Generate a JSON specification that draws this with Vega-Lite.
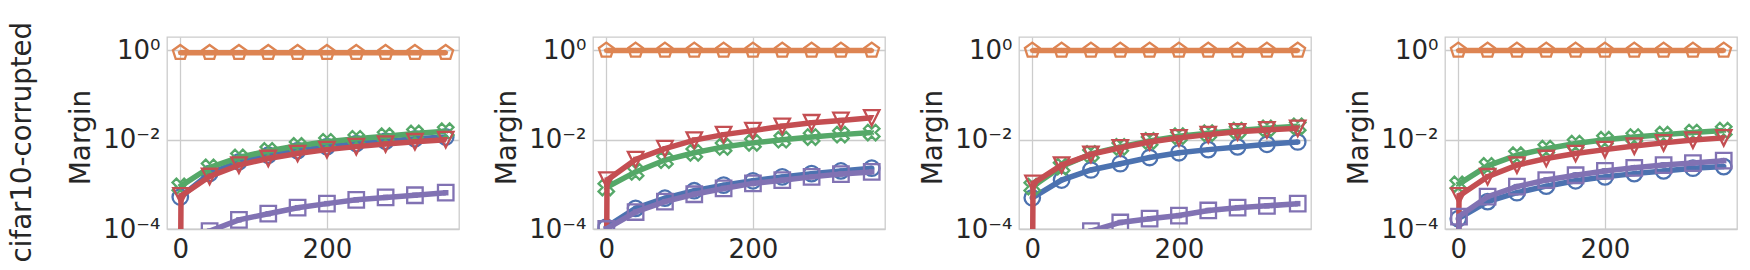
{
  "$schema": "https://vega.github.io/schema/vega-lite/v6.json",
  "padding": {"left": 8, "top": 21, "right": 2, "bottom": 0},
  "data": {"values": [
    {"p":1,"s":"s1","x":0,"y":0.00052},{"p":1,"s":"s1","x":40,"y":0.00175},{"p":1,"s":"s1","x":80,"y":0.0032},{"p":1,"s":"s1","x":120,"y":0.0045},{"p":1,"s":"s1","x":160,"y":0.0057},{"p":1,"s":"s1","x":200,"y":0.007},{"p":1,"s":"s1","x":240,"y":0.0082},{"p":1,"s":"s1","x":280,"y":0.0093},{"p":1,"s":"s1","x":320,"y":0.0105},{"p":1,"s":"s1","x":362,"y":0.0115},
    {"p":1,"s":"s2","x":0,"y":0.89},{"p":1,"s":"s2","x":40,"y":0.89},{"p":1,"s":"s2","x":80,"y":0.89},{"p":1,"s":"s2","x":120,"y":0.89},{"p":1,"s":"s2","x":160,"y":0.89},{"p":1,"s":"s2","x":200,"y":0.89},{"p":1,"s":"s2","x":240,"y":0.89},{"p":1,"s":"s2","x":280,"y":0.89},{"p":1,"s":"s2","x":320,"y":0.89},{"p":1,"s":"s2","x":362,"y":0.89},
    {"p":1,"s":"s3","x":0,"y":0.0009},{"p":1,"s":"s3","x":40,"y":0.0024},{"p":1,"s":"s3","x":80,"y":0.004},{"p":1,"s":"s3","x":120,"y":0.0056},{"p":1,"s":"s3","x":160,"y":0.0073},{"p":1,"s":"s3","x":200,"y":0.009},{"p":1,"s":"s3","x":240,"y":0.0105},{"p":1,"s":"s3","x":280,"y":0.012},{"p":1,"s":"s3","x":320,"y":0.0138},{"p":1,"s":"s3","x":362,"y":0.0155},
    {"p":1,"s":"s4","x":0,"y":0.000001},{"p":1,"s":"s4","x":1,"y":0.00055},{"p":1,"s":"s4","x":40,"y":0.0015},{"p":1,"s":"s4","x":80,"y":0.0027},{"p":1,"s":"s4","x":120,"y":0.0038},{"p":1,"s":"s4","x":160,"y":0.0049},{"p":1,"s":"s4","x":200,"y":0.006},{"p":1,"s":"s4","x":240,"y":0.007},{"p":1,"s":"s4","x":280,"y":0.008},{"p":1,"s":"s4","x":320,"y":0.009},{"p":1,"s":"s4","x":362,"y":0.01},
    {"p":1,"s":"s5","x":0,"y":0.00002},{"p":1,"s":"s5","x":40,"y":0.00009},{"p":1,"s":"s5","x":80,"y":0.00016},{"p":1,"s":"s5","x":120,"y":0.00022},{"p":1,"s":"s5","x":160,"y":0.0003},{"p":1,"s":"s5","x":200,"y":0.00037},{"p":1,"s":"s5","x":240,"y":0.00045},{"p":1,"s":"s5","x":280,"y":0.00051},{"p":1,"s":"s5","x":320,"y":0.00057},{"p":1,"s":"s5","x":362,"y":0.00065},

    {"p":2,"s":"s1","x":0,"y":0.00011},{"p":2,"s":"s1","x":40,"y":0.00029},{"p":2,"s":"s1","x":80,"y":0.00049},{"p":2,"s":"s1","x":120,"y":0.00072},{"p":2,"s":"s1","x":160,"y":0.00096},{"p":2,"s":"s1","x":200,"y":0.0012},{"p":2,"s":"s1","x":240,"y":0.00147},{"p":2,"s":"s1","x":280,"y":0.00174},{"p":2,"s":"s1","x":320,"y":0.002},{"p":2,"s":"s1","x":362,"y":0.0023},
    {"p":2,"s":"s2","x":0,"y":1},{"p":2,"s":"s2","x":40,"y":1},{"p":2,"s":"s2","x":80,"y":1},{"p":2,"s":"s2","x":120,"y":1},{"p":2,"s":"s2","x":160,"y":1},{"p":2,"s":"s2","x":200,"y":1},{"p":2,"s":"s2","x":240,"y":1},{"p":2,"s":"s2","x":280,"y":1},{"p":2,"s":"s2","x":320,"y":1},{"p":2,"s":"s2","x":362,"y":1},
    {"p":2,"s":"s3","x":0,"y":0.00085},{"p":2,"s":"s3","x":40,"y":0.0019},{"p":2,"s":"s3","x":80,"y":0.0035},{"p":2,"s":"s3","x":120,"y":0.0051},{"p":2,"s":"s3","x":160,"y":0.0069},{"p":2,"s":"s3","x":200,"y":0.0085},{"p":2,"s":"s3","x":240,"y":0.01},{"p":2,"s":"s3","x":280,"y":0.0115},{"p":2,"s":"s3","x":320,"y":0.013},{"p":2,"s":"s3","x":362,"y":0.0145},
    {"p":2,"s":"s4","x":0,"y":0.000001},{"p":2,"s":"s4","x":1,"y":0.00124},{"p":2,"s":"s4","x":40,"y":0.0036},{"p":2,"s":"s4","x":80,"y":0.0063},{"p":2,"s":"s4","x":120,"y":0.0098},{"p":2,"s":"s4","x":160,"y":0.013},{"p":2,"s":"s4","x":200,"y":0.016},{"p":2,"s":"s4","x":240,"y":0.02},{"p":2,"s":"s4","x":280,"y":0.024},{"p":2,"s":"s4","x":320,"y":0.027},{"p":2,"s":"s4","x":362,"y":0.031},
    {"p":2,"s":"s5","x":0,"y":0.0001},{"p":2,"s":"s5","x":40,"y":0.00024},{"p":2,"s":"s5","x":80,"y":0.00041},{"p":2,"s":"s5","x":120,"y":0.0006},{"p":2,"s":"s5","x":160,"y":0.00081},{"p":2,"s":"s5","x":200,"y":0.00105},{"p":2,"s":"s5","x":240,"y":0.00124},{"p":2,"s":"s5","x":280,"y":0.00147},{"p":2,"s":"s5","x":320,"y":0.0017},{"p":2,"s":"s5","x":362,"y":0.0019},

    {"p":3,"s":"s1","x":0,"y":0.0005},{"p":3,"s":"s1","x":40,"y":0.00125},{"p":3,"s":"s1","x":80,"y":0.0021},{"p":3,"s":"s1","x":120,"y":0.0029},{"p":3,"s":"s1","x":160,"y":0.004},{"p":3,"s":"s1","x":200,"y":0.0051},{"p":3,"s":"s1","x":240,"y":0.006},{"p":3,"s":"s1","x":280,"y":0.0069},{"p":3,"s":"s1","x":320,"y":0.0079},{"p":3,"s":"s1","x":362,"y":0.0089},
    {"p":3,"s":"s2","x":0,"y":1},{"p":3,"s":"s2","x":40,"y":1},{"p":3,"s":"s2","x":80,"y":1},{"p":3,"s":"s2","x":120,"y":1},{"p":3,"s":"s2","x":160,"y":1},{"p":3,"s":"s2","x":200,"y":1},{"p":3,"s":"s2","x":240,"y":1},{"p":3,"s":"s2","x":280,"y":1},{"p":3,"s":"s2","x":320,"y":1},{"p":3,"s":"s2","x":362,"y":1},
    {"p":3,"s":"s3","x":0,"y":0.00089},{"p":3,"s":"s3","x":40,"y":0.0025},{"p":3,"s":"s3","x":80,"y":0.0048},{"p":3,"s":"s3","x":120,"y":0.0069},{"p":3,"s":"s3","x":160,"y":0.0094},{"p":3,"s":"s3","x":200,"y":0.012},{"p":3,"s":"s3","x":240,"y":0.014},{"p":3,"s":"s3","x":280,"y":0.016},{"p":3,"s":"s3","x":320,"y":0.018},{"p":3,"s":"s3","x":362,"y":0.02},
    {"p":3,"s":"s4","x":0,"y":0.000001},{"p":3,"s":"s4","x":1,"y":0.00105},{"p":3,"s":"s4","x":40,"y":0.0027},{"p":3,"s":"s4","x":80,"y":0.0047},{"p":3,"s":"s4","x":120,"y":0.0066},{"p":3,"s":"s4","x":160,"y":0.0089},{"p":3,"s":"s4","x":200,"y":0.011},{"p":3,"s":"s4","x":240,"y":0.013},{"p":3,"s":"s4","x":280,"y":0.015},{"p":3,"s":"s4","x":320,"y":0.0166},{"p":3,"s":"s4","x":362,"y":0.018},
    {"p":3,"s":"s5","x":0,"y":0.000015},{"p":3,"s":"s5","x":40,"y":0.000045},{"p":3,"s":"s5","x":80,"y":0.00009},{"p":3,"s":"s5","x":120,"y":0.00014},{"p":3,"s":"s5","x":160,"y":0.00017},{"p":3,"s":"s5","x":200,"y":0.0002},{"p":3,"s":"s5","x":240,"y":0.00026},{"p":3,"s":"s5","x":280,"y":0.0003},{"p":3,"s":"s5","x":320,"y":0.00033},{"p":3,"s":"s5","x":362,"y":0.00037},

    {"p":4,"s":"s1","x":0,"y":0.00017},{"p":4,"s":"s1","x":40,"y":0.00041},{"p":4,"s":"s1","x":80,"y":0.00065},{"p":4,"s":"s1","x":120,"y":0.00091},{"p":4,"s":"s1","x":160,"y":0.0012},{"p":4,"s":"s1","x":200,"y":0.00147},{"p":4,"s":"s1","x":240,"y":0.00174},{"p":4,"s":"s1","x":280,"y":0.002},{"p":4,"s":"s1","x":320,"y":0.0023},{"p":4,"s":"s1","x":362,"y":0.0025},
    {"p":4,"s":"s2","x":0,"y":1},{"p":4,"s":"s2","x":40,"y":1},{"p":4,"s":"s2","x":80,"y":1},{"p":4,"s":"s2","x":120,"y":1},{"p":4,"s":"s2","x":160,"y":1},{"p":4,"s":"s2","x":200,"y":1},{"p":4,"s":"s2","x":240,"y":1},{"p":4,"s":"s2","x":280,"y":1},{"p":4,"s":"s2","x":320,"y":1},{"p":4,"s":"s2","x":362,"y":1},
    {"p":4,"s":"s3","x":0,"y":0.001},{"p":4,"s":"s3","x":40,"y":0.0026},{"p":4,"s":"s3","x":80,"y":0.0045},{"p":4,"s":"s3","x":120,"y":0.0063},{"p":4,"s":"s3","x":160,"y":0.0082},{"p":4,"s":"s3","x":200,"y":0.01},{"p":4,"s":"s3","x":240,"y":0.0115},{"p":4,"s":"s3","x":280,"y":0.013},{"p":4,"s":"s3","x":320,"y":0.0145},{"p":4,"s":"s3","x":362,"y":0.016},
    {"p":4,"s":"s4","x":0,"y":0.000001},{"p":4,"s":"s4","x":1,"y":0.00055},{"p":4,"s":"s4","x":40,"y":0.00148},{"p":4,"s":"s4","x":80,"y":0.0027},{"p":4,"s":"s4","x":120,"y":0.0038},{"p":4,"s":"s4","x":160,"y":0.0049},{"p":4,"s":"s4","x":200,"y":0.006},{"p":4,"s":"s4","x":240,"y":0.0072},{"p":4,"s":"s4","x":280,"y":0.0085},{"p":4,"s":"s4","x":320,"y":0.0098},{"p":4,"s":"s4","x":362,"y":0.011},
    {"p":4,"s":"s5","x":0,"y":0.000001},{"p":4,"s":"s5","x":1,"y":0.00019},{"p":4,"s":"s5","x":40,"y":0.00053},{"p":4,"s":"s5","x":80,"y":0.00089},{"p":4,"s":"s5","x":120,"y":0.00125},{"p":4,"s":"s5","x":160,"y":0.0016},{"p":4,"s":"s5","x":200,"y":0.002},{"p":4,"s":"s5","x":240,"y":0.00235},{"p":4,"s":"s5","x":280,"y":0.0027},{"p":4,"s":"s5","x":320,"y":0.003},{"p":4,"s":"s5","x":362,"y":0.0034}
  ]},
  "title": {"text": "cifar10-corrupted", "orient": "left", "anchor": "middle", "fontSize": 27.6, "font": "DejaVu Sans", "fontWeight": "normal", "color": "#262626", "offset": 34, "dx": 7, "dy": 4},
  "facet": {"column": {"field": "p", "type": "ordinal", "title": null, "header": {"title": null, "labels": false}}},
  "spacing": 134,
  "bounds": "flush",
  "resolve": {"axis": {"y": "independent"}},
  "spec": {
    "width": 292,
    "height": 192,
    "encoding": {
      "x": {"field": "x", "type": "quantitative", "scale": {"domain": [-18.1, 380.1], "nice": false, "zero": false}, "axis": {"values": [0, 200], "title": null, "labelPadding": 7}},
      "y": {"field": "y", "type": "quantitative", "scale": {"type": "log", "domain": [0.0001, 2], "nice": false}, "axis": {"values": [1, 0.01, 0.0001], "title": "Margin", "titleX": -78, "titleY": 100, "titleBaseline": "alphabetic", "labelPadding": 7, "labelExpr": "datum.value > 0.5 ? '10⁰' : (datum.value > 0.005 ? '10⁻²' : '10⁻⁴')"}},
      "color": {"field": "s", "type": "nominal", "legend": null, "scale": {"domain": ["s1","s2","s3","s4","s5"], "range": ["#4C72B0","#DD8452","#55A868","#C44E52","#8172B3"]}},
      "shape": {"field": "s", "type": "nominal", "legend": null, "scale": {"domain": ["s1","s2","s3","s4","s5"], "range": ["circle", "M0,-1L0.951,-0.309L0.588,0.809L-0.588,0.809L-0.951,-0.309Z", "M-0.5,-1L0,-0.5L0.5,-1L1,-0.5L0.5,0L1,0.5L0.5,1L0,0.5L-0.5,1L-1,0.5L-0.5,0L-1,-0.5Z", "M-1,-1L1,-1L0,1Z", "square"]}}
    },
    "layer": [
      {"transform": [{"filter": "datum.s == 's1'"}], "mark": {"type": "line", "strokeWidth": 5.5, "clip": true}},
      {"transform": [{"filter": "datum.s == 's1'"}], "mark": {"type": "point", "filled": false, "strokeWidth": 2.3, "size": 240, "opacity": 1, "clip": true}},
      {"transform": [{"filter": "datum.s == 's2'"}], "mark": {"type": "line", "strokeWidth": 5.5, "clip": true}},
      {"transform": [{"filter": "datum.s == 's2'"}], "mark": {"type": "point", "filled": false, "strokeWidth": 2.3, "size": 240, "opacity": 1, "clip": true}},
      {"transform": [{"filter": "datum.s == 's3'"}], "mark": {"type": "line", "strokeWidth": 5.5, "clip": true}},
      {"transform": [{"filter": "datum.s == 's3'"}], "mark": {"type": "point", "filled": false, "strokeWidth": 2.3, "size": 240, "opacity": 1, "clip": true}},
      {"transform": [{"filter": "datum.s == 's4'"}], "mark": {"type": "line", "strokeWidth": 5.5, "clip": true}},
      {"transform": [{"filter": "datum.s == 's4'"}], "mark": {"type": "point", "filled": false, "strokeWidth": 2.3, "size": 240, "opacity": 1, "clip": true}},
      {"transform": [{"filter": "datum.s == 's5'"}], "mark": {"type": "line", "strokeWidth": 5.5, "clip": true}},
      {"transform": [{"filter": "datum.s == 's5'"}], "mark": {"type": "point", "filled": false, "strokeWidth": 2.3, "size": 240, "opacity": 1, "clip": true}}
    ]
  },
  "config": {
    "background": "white",
    "font": "DejaVu Sans",
    "view": {"stroke": "#cccccc", "strokeWidth": 1.3},
    "axis": {"grid": true, "gridColor": "#cccccc", "gridWidth": 1.3, "domain": false, "ticks": false, "tickSize": 0, "labelFont": "DejaVu Sans", "labelFontSize": 26, "labelColor": "#262626", "titleFont": "DejaVu Sans", "titleFontSize": 28, "titleFontWeight": "normal", "titleColor": "#262626"}
  }
}
